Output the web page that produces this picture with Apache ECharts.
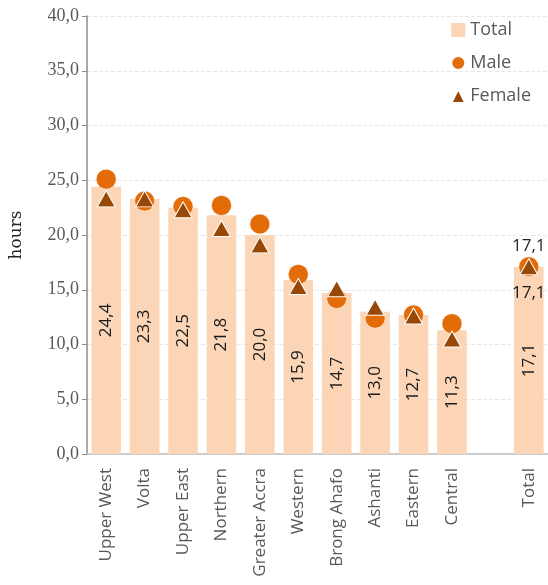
<!DOCTYPE html>
<html>
<head>
<meta charset="utf-8">
<script src="https://cdn.jsdelivr.net/npm/echarts@6/dist/echarts.min.js"></script>
<style>
  html, body { margin: 0; padding: 0; background: #fff; }
  #chart { width: 548px; height: 585px; }
</style>
</head>
<body>
<div id="chart"></div>
<script>
var categories = ['Upper West', 'Volta', 'Upper East', 'Northern', 'Greater Accra', 'Western',
  'Brong Ahafo', 'Ashanti', 'Eastern', 'Central', '', 'Total'];
var totalValues = [24.4, 23.3, 22.5, 21.8, 20.0, 15.9, 14.7, 13.0, 12.7, 11.3, '-', 17.1];
var maleValues = [25.1, 23.1, 22.6, 22.7, 21.0, 16.4, 14.2, 12.4, 12.7, 11.9, '-', 17.1];
var femaleValues = [23.3, 23.3, 22.3, 20.6, 19.1, 15.3, 15.1, 13.4, 12.6, 10.5, '-', 17.1];

function fmt(v) { return Number(v).toFixed(1).replace('.', ','); }

var chart = echarts.init(document.getElementById('chart'));

// only the Total point of Male/Female carries a label
function withLastLabel(values, pos, dist) {
  return values.map(function (v, i) {
    if (i === values.length - 1) {
      return { value: v, label: { show: true, position: pos, distance: dist, formatter: function (p) { return fmt(p.value); } } };
    }
    return v;
  });
}

chart.setOption({
  animation: false,
  grid: { left: 84, right: -6, top: 16, bottom: 131 },
  legend: {
    orient: 'vertical',
    right: 12,
    top: 16,
    itemGap: 15,
    itemWidth: 14,
    itemHeight: 14,
    textStyle: { color: '#595959', fontSize: 18, fontFamily: 'Open Sans' },
    data: [
      { name: 'Total', icon: 'rect' },
      { name: 'Male', icon: 'circle' },
      { name: 'Female', icon: 'triangle' }
    ]
  },
  xAxis: {
    type: 'category',
    data: categories,
    axisLine: { lineStyle: { color: '#bfbfbf', width: 1.5 } },
    axisTick: { show: false },
    axisLabel: { rotate: 90, interval: 0, color: '#595959', fontSize: 17, fontFamily: 'Open Sans', margin: 14 }
  },
  yAxis: {
    type: 'value',
    min: 0,
    max: 40,
    interval: 5,
    name: 'hours',
    nameLocation: 'middle',
    nameGap: 62,
    nameTextStyle: { color: '#262626', fontSize: 17, fontFamily: 'DejaVu Serif' },
    axisLine: { show: true, lineStyle: { color: '#8c8c8c', width: 1.5 } },
    axisTick: { show: true, length: 5, lineStyle: { color: '#8c8c8c' } },
    axisLabel: { color: '#595959', fontSize: 18, fontFamily: 'Liberation Serif', formatter: fmt },
    splitLine: { lineStyle: { color: '#e6e6e6', type: 'dashed' } }
  },
  series: [
    {
      name: 'Total',
      type: 'bar',
      data: totalValues,
      barCategoryGap: '23%',
      itemStyle: { color: '#FBD5B5' },
      label: {
        show: true,
        position: 'inside',
        rotate: 90,
        color: '#1a1a1a',
        fontSize: 17,
        fontFamily: 'Open Sans',
        formatter: function (p) { return fmt(p.value); }
      },
      z: 1
    },
    {
      name: 'Male',
      type: 'scatter',
      data: withLastLabel(maleValues, 'top', 2),
      symbol: 'circle',
      symbolSize: 20,
      itemStyle: { color: '#E36C09', borderColor: '#fff', borderWidth: 0.5, opacity: 1 },
      label: { color: '#262626', fontSize: 17, fontFamily: 'Open Sans' },
      z: 3
    },
    {
      name: 'Female',
      type: 'scatter',
      data: withLastLabel(femaleValues, 'bottom', 9),
      symbol: 'triangle',
      symbolSize: [18, 16],
      itemStyle: { color: '#974706', borderColor: '#fff', borderWidth: 1, opacity: 1 },
      label: { color: '#1a1a1a', fontSize: 17, fontFamily: 'Open Sans' },
      z: 4
    }
  ]
});
</script>
</body>
</html>
